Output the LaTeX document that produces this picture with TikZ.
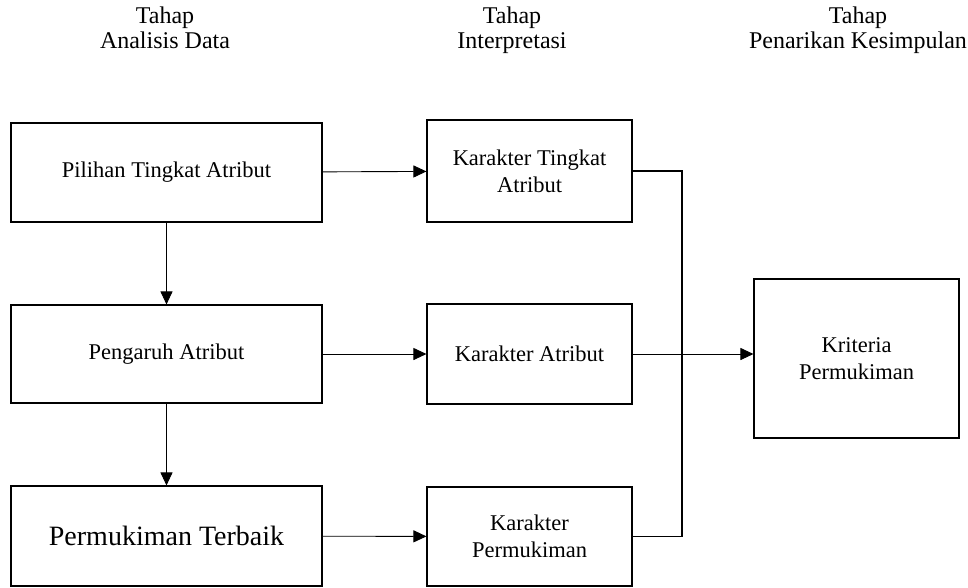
\documentclass[tikz,border=0pt]{standalone}
\usepackage{fontspec}
\setmainfont{Liberation Serif}
\usetikzlibrary{arrows.meta}
\usetikzlibrary{positioning}

\begin{document}
\begin{tikzpicture}[x=1pt,y=-1pt]
\tikzset{tahapbox/.style={rectangle,draw,line width=1.1pt,align=center,inner sep=0pt,font=\fontsize{22.5}{27}\selectfont},
judul/.style={anchor=north,align=center,inner sep=0pt,font=\fontsize{24}{25}\selectfont},
panah/.style={line width=0.9pt,-{Triangle[length=13pt,width=12pt]}}}
\useasboundingbox (0,0) rectangle (968,587);
\node[judul](analisis) at (165,7){Tahap\\Analisis Data};
\node[judul](interpretasi) at (512,7){Tahap\\Interpretasi};
\node[judul](kesimpulan) at (858,7){Tahap\\Penarikan Kesimpulan};
\node[tahapbox,minimum width=311pt,minimum height=99pt](pilihan) at (166.5,172.5){Pilihan Tingkat Atribut};
\node[tahapbox,minimum width=311pt,minimum height=98pt](pengaruh) at (166.5,354){Pengaruh Atribut};
\node[tahapbox,minimum width=311pt,minimum height=100pt,font=\fontsize{28}{32}\selectfont](terbaik) at (166.5,536){Permukiman Terbaik};
\node[tahapbox,minimum width=205pt,minimum height=102pt](ktingkat) at (529.5,171){Karakter Tingkat\\Atribut};
\node[tahapbox,minimum width=205pt,minimum height=100pt](katribut) at (529.5,354){Karakter Atribut};
\node[tahapbox,minimum width=205pt,minimum height=99pt](kpermukiman) at (529.5,536.5){Karakter\\Permukiman};
\node[tahapbox,minimum width=205pt,minimum height=159pt](kriteria) at (856.5,358.5){Kriteria\\Permukiman};
\draw[panah](pilihan)--(ktingkat);
\draw[panah](pengaruh)--(katribut);
\draw[panah](terbaik)--(kpermukiman);
\draw[panah](pilihan)--(pengaruh);
\draw[panah](pengaruh)--(terbaik);
\coordinate (atas) at (682,171);
\coordinate (bawah) at (682,536.5);
\draw[line width=1.1pt](ktingkat.east)--(atas)--(bawah)--(kpermukiman.east);
\draw[panah](katribut.east)--(katribut.east -| kriteria.west);
\end{tikzpicture}
\end{document}
